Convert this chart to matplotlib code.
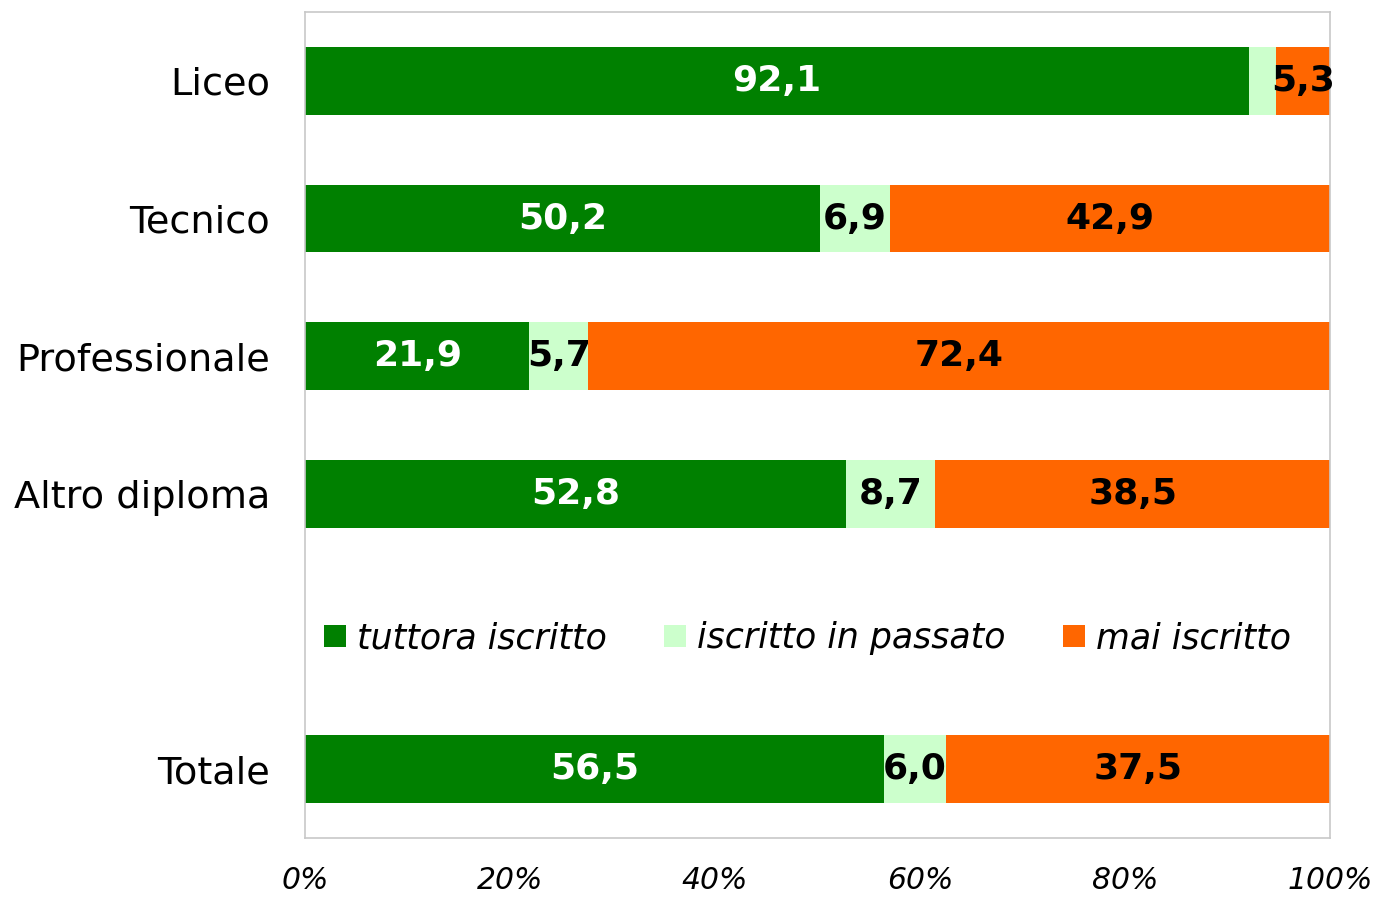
import matplotlib
matplotlib.use("Agg")
import matplotlib.pyplot as plt
from matplotlib.ticker import FuncFormatter
import numpy as np

categories = ["Liceo", "Tecnico", "Professionale", "Altro diploma", "Totale"]
positions = [0, 1, 2, 3, 5]
series_names = ["tuttora iscritto", "iscritto in passato", "mai iscritto"]
tuttora = [92.1, 50.2, 21.9, 52.8, 56.5]
passato = [2.6, 6.9, 5.7, 8.7, 6.0]
mai = [5.3, 42.9, 72.4, 38.5, 37.5]
show_label = [[True, True, True, True, True],
              [False, True, True, True, True],
              [True, True, True, True, True]]

colors = ["#008000", "#CCFFCC", "#FF6600"]
text_colors = ["white", "black", "black"]

plt.rcParams['font.family'] = ['DejaVu Sans']
fig = plt.figure(figsize=(13.75, 8.97), dpi=100)
ax = fig.add_axes([305/1375, 1-838/897, (1330-305)/1375, (838-12)/897])

left = np.zeros(len(categories))
for i, (vals, name) in enumerate(zip([tuttora, passato, mai], series_names)):
    vals = np.array(vals)
    bars = ax.barh(positions, vals, left=left, height=0.49, color=colors[i],
                   label=name, edgecolor='none')
    for j, (b, v) in enumerate(zip(bars, vals)):
        if show_label[i][j]:
            ax.text(left[j] + v/2, positions[j], f"{v:.1f}".replace('.', ','),
                    ha='center', va='center', color=text_colors[i],
                    fontsize=26, fontweight='bold')
    left += vals

ax.set_xlim(0, 100)
ax.set_ylim(5.5, -0.5)
ax.set_yticks(positions)
ax.set_yticklabels(categories, fontsize=27.5)
ax.set_xticks(np.arange(0, 101, 20))
ax.xaxis.set_major_formatter(FuncFormatter(lambda x, p: f"{int(x)}%"))
for lab in ax.get_xticklabels():
    lab.set_fontstyle('italic')
    lab.set_fontsize(21.5)
ax.tick_params(axis='y', length=0, pad=25)
ax.tick_params(axis='x', length=0, pad=20)
for s in ax.spines.values():
    s.set_color('#C8C8C8')
    s.set_linewidth(1.2)

leg = ax.legend(loc='center', bbox_to_anchor=(0.49, 0.242), ncol=3, frameon=False,
                prop={'size': 25, 'style': 'italic'}, handlelength=0.63, handleheight=0.63,
                handletextpad=0.32, columnspacing=1.65)

fig.savefig("out.png", dpi=100)
